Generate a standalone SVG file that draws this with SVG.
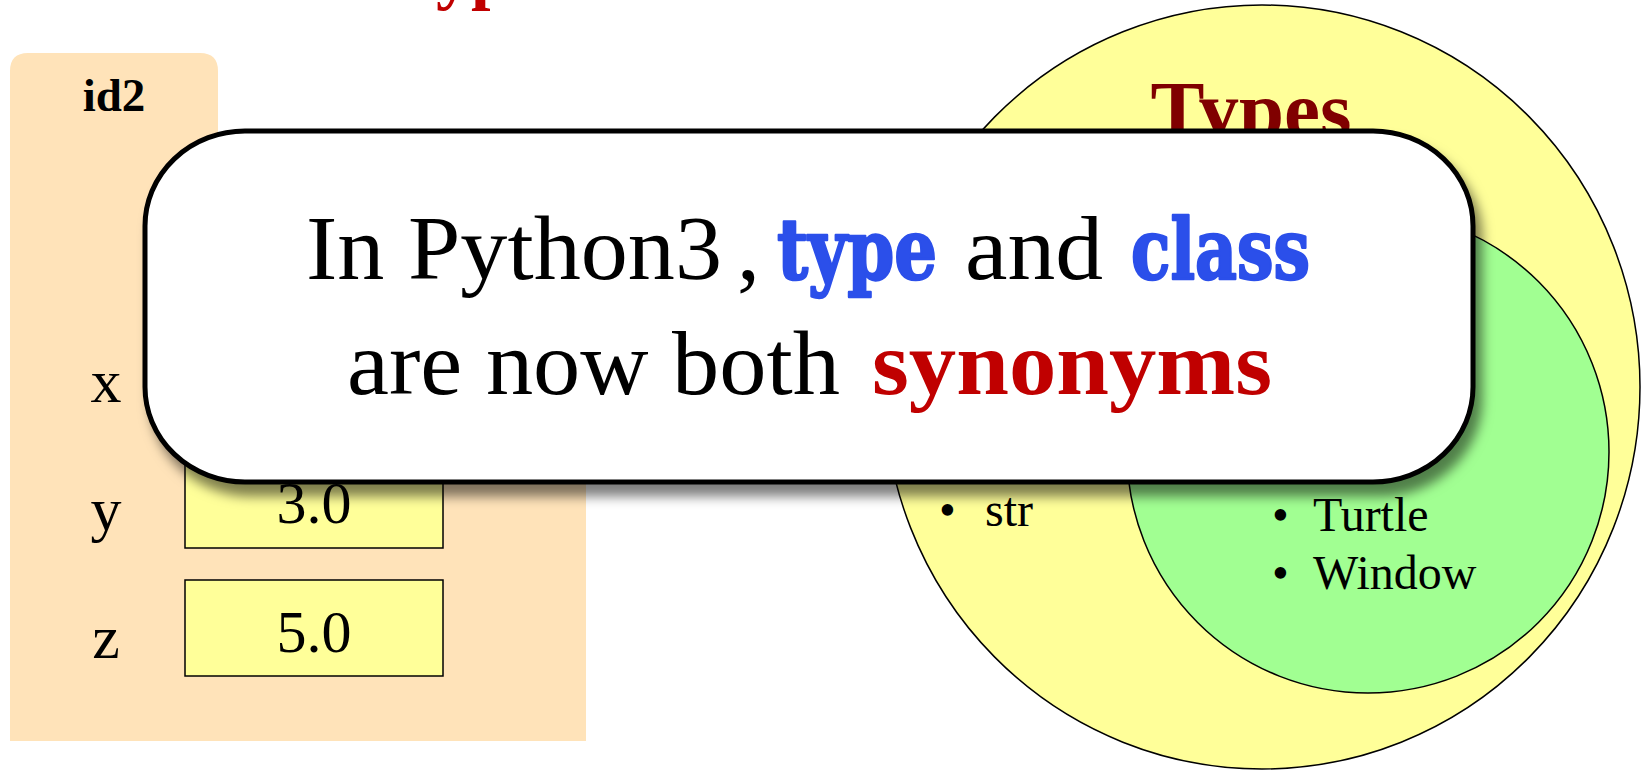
<svg xmlns="http://www.w3.org/2000/svg" width="1642" height="770" viewBox="0 0 1642 770">
<style>
.serif{font-family:"Liberation Serif","Times New Roman",serif;}
.lbl{font-family:"Liberation Serif","Times New Roman",serif;font-size:62px;fill:#000;text-anchor:middle;}
.val{font-family:"Liberation Serif","Times New Roman",serif;font-size:60px;fill:#000;text-anchor:middle;}
.box{fill:#FFFF99;stroke:#000;stroke-width:1.5;}
.bul{font-family:"Liberation Serif","Times New Roman",serif;font-size:48px;fill:#000;}
.kw{font-family:"DejaVu Serif","Liberation Serif",serif;font-weight:bold;font-size:84px;fill:#2B4FEA;stroke:#2B4FEA;stroke-width:2.5;stroke-linejoin:round;}
</style>
<defs>
<filter id="sh" x="-5%" y="-10%" width="115%" height="130%">
<feDropShadow dx="7" dy="12" stdDeviation="6" flood-color="#000" flood-opacity="0.5"/>
</filter>
</defs>
<rect width="1642" height="770" fill="#fff"/>
<g id="title-fragment">
<text class="serif" x="436" y="-4" font-size="70" font-weight="bold" fill="#C00000">yp</text>
</g>
<g id="frame-id2">
<path d="M10,71 Q10,53 28,53 L200,53 Q218,53 218,71 L218,200 L586,200 L586,741 L10,741 Z" fill="#FFE3B9"/>
<text class="serif" x="114" y="111" font-size="47" font-weight="bold" text-anchor="middle">id2</text>
</g>
<g id="var-x">
<text class="lbl" x="106" y="402">x</text>
<rect class="box" x="185" y="324" width="258" height="96"/>
</g>
<g id="var-y">
<text class="lbl" x="106" y="530">y</text>
<rect class="box" x="185" y="452" width="258" height="96"/>
<text class="val" x="314" y="523">3.0</text>
</g>
<g id="var-z">
<text class="lbl" x="106" y="658">z</text>
<rect class="box" x="185" y="580" width="258" height="96"/>
<text class="val" x="314" y="652">5.0</text>
</g>
<g id="types">
<ellipse cx="1262" cy="387" rx="378" ry="382" fill="#FFFF99" stroke="#000" stroke-width="1.5"/>
<text class="serif" x="1251" y="137" font-size="81" font-weight="bold" fill="#800000" text-anchor="middle">Types</text>
<text class="bul" x="939" y="526">•</text>
<text class="bul" x="985" y="526">str</text>
</g>
<g id="classes">
<circle cx="1368" cy="452" r="241" fill="#A1FF92" stroke="#000" stroke-width="1.5"/>
<text class="bul" x="1272" y="531">•</text>
<text class="bul" x="1313" y="531">Turtle</text>
<text class="bul" x="1272" y="589">•</text>
<text class="bul" x="1313" y="589">Window</text>
</g>
<g id="callout">
<rect x="145" y="131" width="1328" height="351" rx="100" ry="95" fill="#fff" stroke="#000" stroke-width="5" filter="url(#sh)"/>
<text class="serif" x="306" y="279" font-size="92" textLength="416" lengthAdjust="spacingAndGlyphs">In Python3</text>
<text class="serif" x="737" y="279" font-size="92">,</text>
<text class="kw" x="777" y="279" textLength="160" lengthAdjust="spacingAndGlyphs">type</text>
<text class="serif" x="965" y="279" font-size="92" textLength="138" lengthAdjust="spacingAndGlyphs">and</text>
<text class="kw" x="1131" y="279" textLength="179" lengthAdjust="spacingAndGlyphs">class</text>
<text class="serif" x="347" y="394" font-size="92" textLength="493" lengthAdjust="spacingAndGlyphs">are now both</text>
<text class="serif" x="872" y="394" font-size="92" font-weight="bold" fill="#C00000" textLength="400" lengthAdjust="spacingAndGlyphs">synonyms</text>
</g>
</svg>
